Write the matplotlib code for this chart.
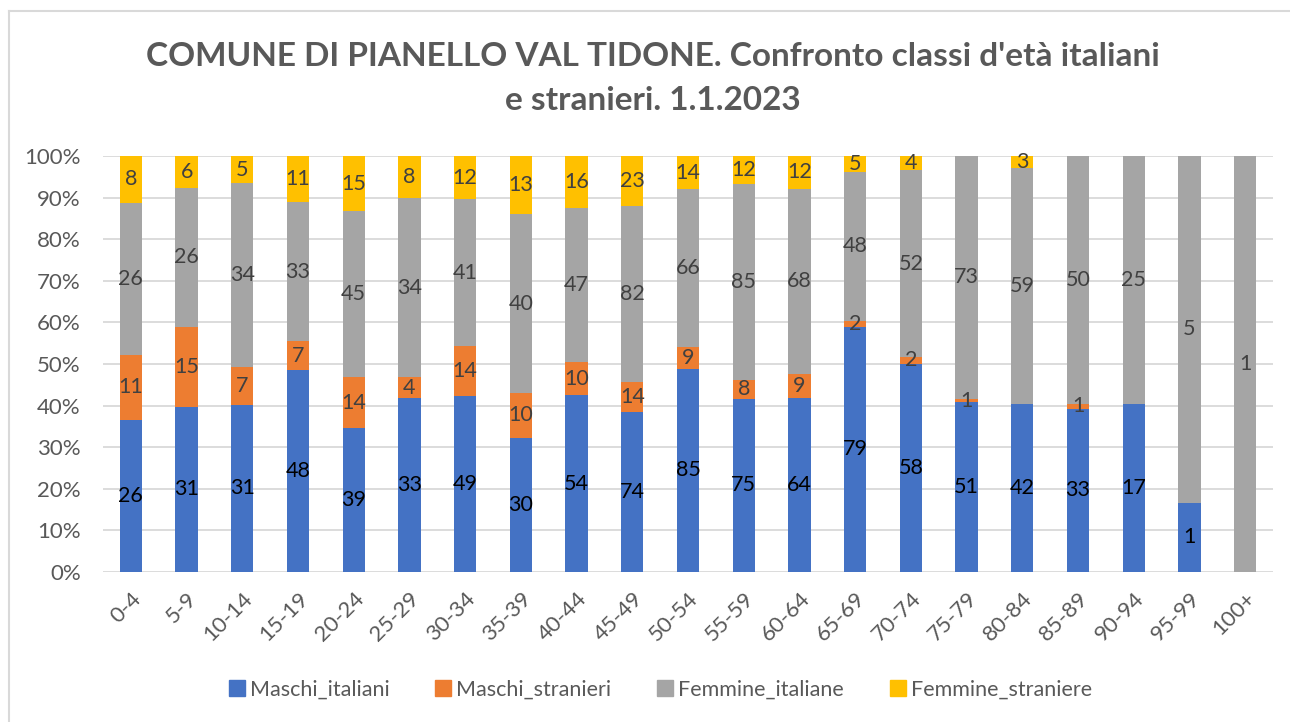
import numpy as np
import matplotlib.pyplot as plt
from matplotlib.lines import Line2D

plt.rcParams['font.family'] = ['Lato', 'DejaVu Sans']

classi = ['0-4', '5-9', '10-14', '15-19', '20-24', '25-29', '30-34', '35-39',
          '40-44', '45-49', '50-54', '55-59', '60-64', '65-69', '70-74',
          '75-79', '80-84', '85-89', '90-94', '95-99', '100+']
maschi_italiani = [26, 31, 31, 48, 39, 33, 49, 30, 54, 74, 85, 75, 64, 79, 58, 51, 42, 33, 17, 1, 0]
maschi_stranieri = [11, 15, 7, 7, 14, 4, 14, 10, 10, 14, 9, 8, 9, 2, 2, 1, 0, 1, 0, 0, 0]
femmine_italiane = [26, 26, 34, 33, 45, 34, 41, 40, 47, 82, 66, 85, 68, 48, 52, 73, 59, 50, 25, 5, 1]
femmine_straniere = [8, 6, 5, 11, 15, 8, 12, 13, 16, 23, 14, 12, 12, 5, 4, 0, 3, 0, 0, 0, 0]

serie = [('Maschi_italiani', maschi_italiani, '#4472C4', 'black'),
         ('Maschi_stranieri', maschi_stranieri, '#ED7D31', '#404040'),
         ('Femmine_italiane', femmine_italiane, '#A5A5A5', '#404040'),
         ('Femmine_straniere', femmine_straniere, '#FFC000', '#404040')]

grey = '#595959'

fig = plt.figure(figsize=(12.9, 7.22), dpi=100)
ax = fig.add_axes([103 / 1290, 1 - 572 / 722, 1170 / 1290, 416 / 722])

x = np.arange(len(classi))
totali = np.array([sum(v) for v in zip(*[s[1] for s in serie])], dtype=float)
base = np.zeros(len(classi))
handles = []
for nome, vals, col, tcol in serie:
    v = np.array(vals, dtype=float)
    pct = v / totali * 100
    ax.bar(x, pct, bottom=base, width=0.4, color=col, zorder=3)
    for i in range(len(classi)):
        if vals[i] > 0:
            ax.text(x[i], base[i] + pct[i] / 2, str(vals[i]), ha='center', va='center',
                    fontsize=15.5, color=tcol, zorder=4)
    base += pct
    handles.append(Line2D([], [], marker='s', linestyle='', markersize=11,
                          markerfacecolor=col, markeredgecolor=col, label=nome))

ax.set_xlim(-0.5, len(classi) - 0.5)
ax.set_ylim(0, 100)
ax.set_yticks(np.arange(0, 101, 10))
ax.set_yticklabels([f'{t}%' for t in range(0, 101, 10)])
ax.yaxis.grid(True, color='#D9D9D9', linewidth=1.3, zorder=0)
ax.set_xticks(x)
ax.set_xticklabels(classi, rotation=45, ha='right', va='top', rotation_mode='anchor')
for s in ax.spines.values():
    s.set_visible(False)
ax.tick_params(axis='both', length=0, labelsize=16, colors=grey)
ax.tick_params(axis='y', pad=16)
ax.tick_params(axis='x', pad=12)

fig.text(0.506, 1 - 57 / 722, "COMUNE DI PIANELLO VAL TIDONE. Confronto classi d'età italiani",
         ha='center', va='center', fontsize=24, fontweight='bold', color=grey)
fig.text(0.506, 1 - 101 / 722, "e stranieri. 1.1.2023",
         ha='center', va='center', fontsize=24, fontweight='bold', color=grey)

fig.legend(handles=handles, loc='center', bbox_to_anchor=(0.51, 1 - 690 / 722), ncol=4,
           frameon=False, fontsize=15.5, labelcolor=grey, handletextpad=0.0,
           columnspacing=1.9, handlelength=1.2)

# bordo del grafico
fig.add_artist(Line2D([9 / 1290, 9 / 1290], [0, 1 - 11 / 722], color='#D9D9D9', lw=1.5))
fig.add_artist(Line2D([9 / 1290, 1], [1 - 11 / 722, 1 - 11 / 722], color='#D9D9D9', lw=1.5))

fig.savefig('out.png', dpi=100)
